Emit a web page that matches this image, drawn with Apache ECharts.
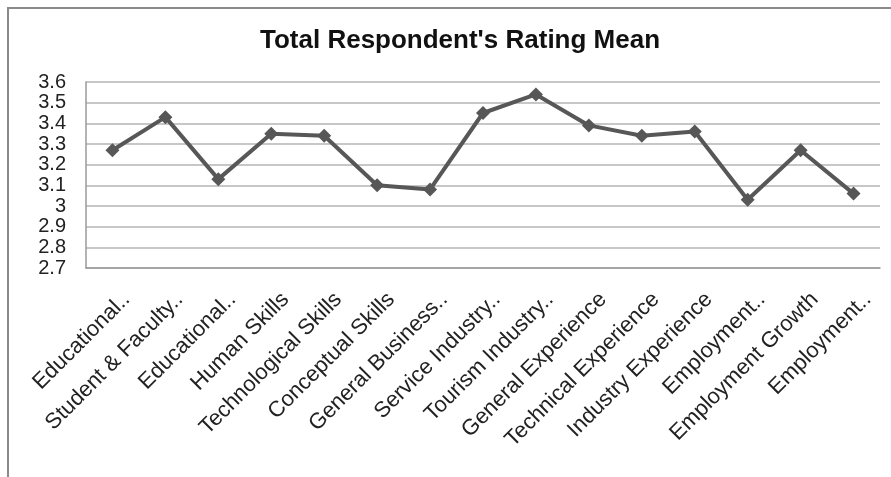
<!DOCTYPE html>
<html>
<head>
<meta charset="utf-8">
<script src="https://cdn.jsdelivr.net/npm/echarts@6/dist/echarts.min.js"></script>
<style>
  html, body { margin: 0; padding: 0; background: #fff; }
  #chart { width: 891px; height: 477px; }
</style>
</head>
<body>
<div id="chart"></div>
<script>
// Rating categories (truncated labels as shown on the axis)
const categories = [
  'Educational..', 'Student & Faculty..', 'Educational..', 'Human Skills',
  'Technological Skills', 'Conceptual Skills', 'General Business..',
  'Service Industry..', 'Tourism Industry..', 'General Experience',
  'Technical Experience', 'Industry Experience', 'Employment..',
  'Employment Growth', 'Employment..'
];

// Mean rating of all respondents for each category
const ratingMean = [
  3.27, 3.43, 3.13, 3.35, 3.34, 3.10, 3.08, 3.45,
  3.54, 3.39, 3.34, 3.36, 3.03, 3.27, 3.06
];

// Value axis ticks
const yTicks = ['2.7', '2.8', '2.9', '3', '3.1', '3.2', '3.3', '3.4', '3.5', '3.6'];

const FONT = 'Liberation Sans, Arial, Helvetica, sans-serif';
const chart = echarts.init(document.getElementById('chart'), null, { renderer: 'canvas' });

chart.setOption({
  backgroundColor: '#ffffff',
  animation: false,
  title: {
    text: "Total Respondent's Rating Mean",
    left: 255,
    top: 23,
    textStyle: { fontFamily: FONT, fontSize: 26, fontWeight: 'bold', color: '#111' }
  },
  graphic: [{
    type: 'rect',
    shape: { x: 8, y: 8, width: 900, height: 500 },
    style: { fill: 'none', stroke: '#8a8a8a', lineWidth: 2 },
    silent: true
  }],
  grid: { left: 86, right: 11, top: 82, bottom: 209, containLabel: false },
  xAxis: {
    type: 'category',
    data: categories,
    boundaryGap: true,
    axisLine: { show: true, lineStyle: { color: '#9a9a9a', width: 1.5 } },
    axisTick: { show: false },
    axisLabel: {
      interval: 0,
      rotate: 45,
      margin: 14,
      verticalAlign: 'top',
      padding: [9, 0, 0, 0],
      fontFamily: FONT,
      fontSize: 22,
      color: '#222'
    }
  },
  yAxis: {
    type: 'value',
    min: Number(yTicks[0]),
    max: Number(yTicks[yTicks.length - 1]),
    interval: 0.1,
    axisLine: { show: true, lineStyle: { color: '#9a9a9a', width: 1.5 } },
    axisTick: { show: false },
    splitLine: { show: true, lineStyle: { color: '#b4b4b4', width: 1.5 } },
    axisLabel: {
      margin: 20,
      fontFamily: FONT,
      fontSize: 20,
      color: '#222',
      formatter: function (v) {
        const i = Math.round((v - Number(yTicks[0])) * 10);
        return yTicks[i] !== undefined ? yTicks[i] : '';
      }
    }
  },
  series: [{
    type: 'line',
    data: ratingMean,
    symbol: 'diamond',
    symbolSize: 14,
    lineStyle: { color: '#575757', width: 4 },
    itemStyle: { color: '#575757' }
  }]
});
</script>
</body>
</html>
